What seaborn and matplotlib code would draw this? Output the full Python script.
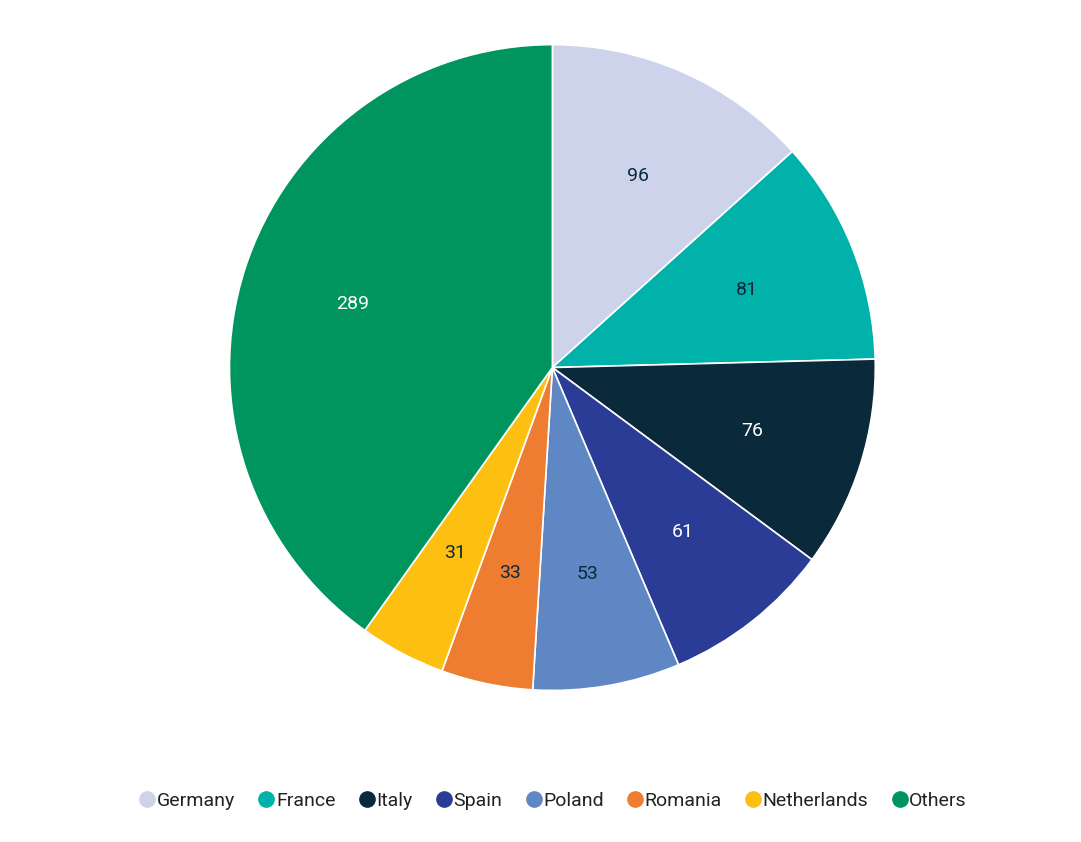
import matplotlib
matplotlib.use("Agg")
import matplotlib.pyplot as plt
import seaborn as sns
from matplotlib.lines import Line2D

sns.set_theme(style="white")
plt.rcParams['font.family'] = ['Roboto', 'DejaVu Sans']

countries = ["Germany", "France", "Italy", "Spain", "Poland", "Romania", "Netherlands", "Others"]
values = [96, 81, 76, 61, 53, 33, 31, 289]
colors = ["#CDD3EB", "#00B2A9", "#0A2A3C", "#2A3C96", "#5F87C4", "#EE7D31", "#FDC010", "#00945F"]
text_colors = ["#0A2A3C", "#0A2A3C", "white", "white", "#0A2A3C", "#0A2A3C", "#0A2A3C", "white"]

fig = plt.figure(figsize=(10.81, 8.42), dpi=100)
ax = fig.add_axes([0.212, 0.180, 0.598, 0.767])
wedges, texts = ax.pie(values, colors=colors, startangle=90, counterclock=False,
                       labels=[str(v) for v in values], labeldistance=0.65,
                       wedgeprops=dict(edgecolor="white", linewidth=1.2))
for t, c in zip(texts, text_colors):
    t.set_color(c)
    t.set_fontsize(14)
    t.set_ha("center")
    t.set_va("center")
ax.set_xlim(-1, 1)
ax.set_ylim(-1, 1)
ax.set_aspect("equal")

handles = [Line2D([0], [0], marker="o", linestyle="", markersize=11,
                  markerfacecolor=c, markeredgecolor=c) for c in colors]
fig.legend(handles, countries, loc="center", bbox_to_anchor=(0.51, 0.049), ncol=8,
           frameon=False, fontsize=14, handletextpad=-0.1, columnspacing=1.0,
           handlelength=1.2, labelcolor="#222222")
fig.savefig("out.png", dpi=100)
